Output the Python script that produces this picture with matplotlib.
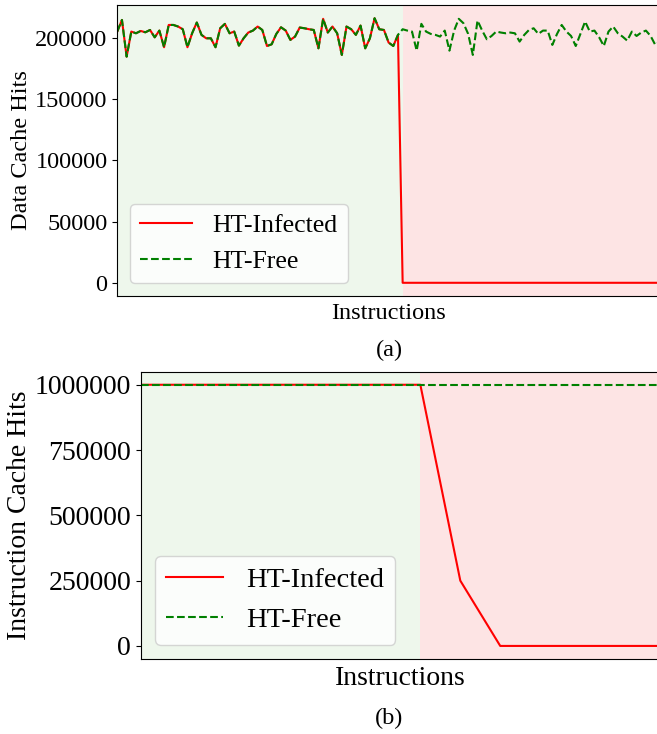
import matplotlib.pyplot as plt

plt.rcParams['font.family'] = ['Liberation Serif', 'DejaVu Serif']

# (a) data cache hits per sample
ht_free_data = [205200, 214700, 184700, 205200, 203800, 205700, 204600, 206500, 200500, 206000,
                192400, 210600, 210600, 209300, 207100, 192400, 203800, 212600, 202500, 199700,
                199700, 192400, 207900, 211500, 203800, 205200, 193700, 199700, 204400, 206000,
                209300, 206500, 193400, 194800, 203300, 208700, 206000, 198400, 201100, 208500,
                207900, 207100, 206500, 191500, 215600, 204400, 209300, 203800, 186100, 209300,
                207100, 202500, 210100, 191500, 199700, 216100, 207100, 206500, 196200, 193400,
                202500, 207100, 206000, 205200, 189600, 211500, 205200, 203300, 202500, 201100,
                206000, 189600, 206000, 215600, 212000, 203300, 186100, 214200, 206000, 198900,
                201600, 205200, 204400, 203800, 204400, 203800, 197000, 202500, 206500, 207900,
                203300, 206000, 206000, 194300, 203300, 210600, 205200, 201600, 193400, 203300,
                213400, 205200, 206000, 200500, 193400, 205200, 209300, 203800, 201100, 197800,
                205200, 201600, 204400, 206000, 201600, 194300, 197000]
infect_idx_a = 61
ht_infected_data = ht_free_data[:infect_idx_a] + [0] * (len(ht_free_data) - infect_idx_a)

# (b) instruction cache hits
ht_free_inst = [1000000] * 14
ht_infected_inst = [1000000] * 8 + [250000] + [0] * 5
infect_idx_b = 7

green_bg = '#eef7ec'
red_bg = '#fde4e4'

fig = plt.figure(figsize=(6.57, 7.34), dpi=100)

# top panel
ax1 = fig.add_axes([0.1785, 0.5967, 0.826, 0.3965])
xa = list(range(len(ht_free_data)))
ax1.axvspan(0, infect_idx_a, color=green_bg, lw=0)
ax1.axvspan(infect_idx_a, xa[-1], color=red_bg, lw=0)
ax1.plot(xa, ht_infected_data, color='red', lw=1.5, label='HT-Infected')
ax1.plot(xa, ht_free_data, color='green', ls='--', lw=1.5, label='HT-Free')
ax1.set_xlim(0, xa[-1])
ax1.set_xticks([])
ax1.set_yticks([0, 50000, 100000, 150000, 200000])
ax1.tick_params(axis='y', labelsize=17.5)
ax1.set_ylabel('Data Cache Hits', fontsize=17.5, labelpad=2)
ax1.set_xlabel('Instructions', fontsize=17.5, labelpad=5)
ax1.legend(loc='lower left', fontsize=18.5)

# bottom panel
ax2 = fig.add_axes([0.2142, 0.1022, 0.7904, 0.3914])
xb = list(range(len(ht_free_inst)))
ax2.axvspan(0, infect_idx_b, color=green_bg, lw=0)
ax2.axvspan(infect_idx_b, xb[-1], color=red_bg, lw=0)
ax2.plot(xb, ht_infected_inst, color='red', lw=1.5, label='HT-Infected')
ax2.plot(xb, ht_free_inst, color='green', ls='--', lw=1.5, label='HT-Free')
ax2.set_xlim(0, xb[-1])
ax2.set_xticks([])
ax2.set_yticks([0, 250000, 500000, 750000, 1000000])
ax2.ticklabel_format(axis='y', style='plain', useOffset=False)
ax2.tick_params(axis='y', labelsize=20)
ax2.set_ylabel('Instruction Cache Hits', fontsize=20, labelpad=2)
ax2.set_xlabel('Instructions', fontsize=20, labelpad=5)
ax2.legend(loc='lower left', fontsize=20.5)

fig.text(389 / 657, 1 - 350 / 734, '(a)', fontsize=17.5, ha='center', va='center')
fig.text(389 / 657, 1 - 718 / 734, '(b)', fontsize=17.5, ha='center', va='center')

fig.savefig('out.png', dpi=100)
